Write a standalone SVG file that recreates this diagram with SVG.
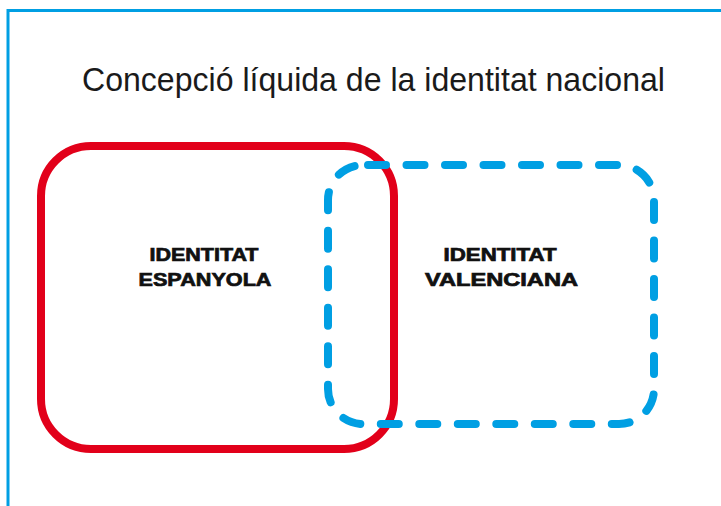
<svg xmlns="http://www.w3.org/2000/svg" width="721" height="506" viewBox="0 0 721 506">
<style>
.frame{fill:none;stroke:#009fe3;stroke-width:3}
.title{font-family:"Liberation Sans","DejaVu Sans",sans-serif;font-size:33px;fill:#1a1a1a}
.lbl{font-family:"Liberation Sans","DejaVu Sans",sans-serif;font-size:18px;font-weight:bold;fill:#111;stroke:#111;stroke-width:0.7}
</style>
<rect width="721" height="506" fill="#fff"/>
<rect class="frame" x="8" y="10.5" width="800" height="600"/>
<text class="title" x="373.5" y="91" text-anchor="middle" textLength="583" lengthAdjust="spacingAndGlyphs">Concepció líquida de la identitat nacional</text>
<g id="espanyola">
<rect x="41" y="146" width="353" height="303" rx="50" ry="50" fill="none" stroke="#e2001a" stroke-width="8"/>
<text class="lbl" x="204" y="261" text-anchor="middle" textLength="109" lengthAdjust="spacingAndGlyphs">IDENTITAT</text>
<text class="lbl" x="205" y="286" text-anchor="middle" textLength="133" lengthAdjust="spacingAndGlyphs">ESPANYOLA</text>
</g>
<g id="valenciana">
<rect x="328" y="165" width="326" height="259" rx="35" ry="35" fill="none" stroke="#009fe3" stroke-width="8" stroke-linecap="round" stroke-dasharray="18 20.5" stroke-dashoffset="-5"/>
<text class="lbl" x="500" y="261" text-anchor="middle" textLength="113" lengthAdjust="spacingAndGlyphs">IDENTITAT</text>
<text class="lbl" x="501.5" y="286" text-anchor="middle" textLength="153" lengthAdjust="spacingAndGlyphs">VALENCIANA</text>
</g>
<g id="connectors"/>
</svg>
